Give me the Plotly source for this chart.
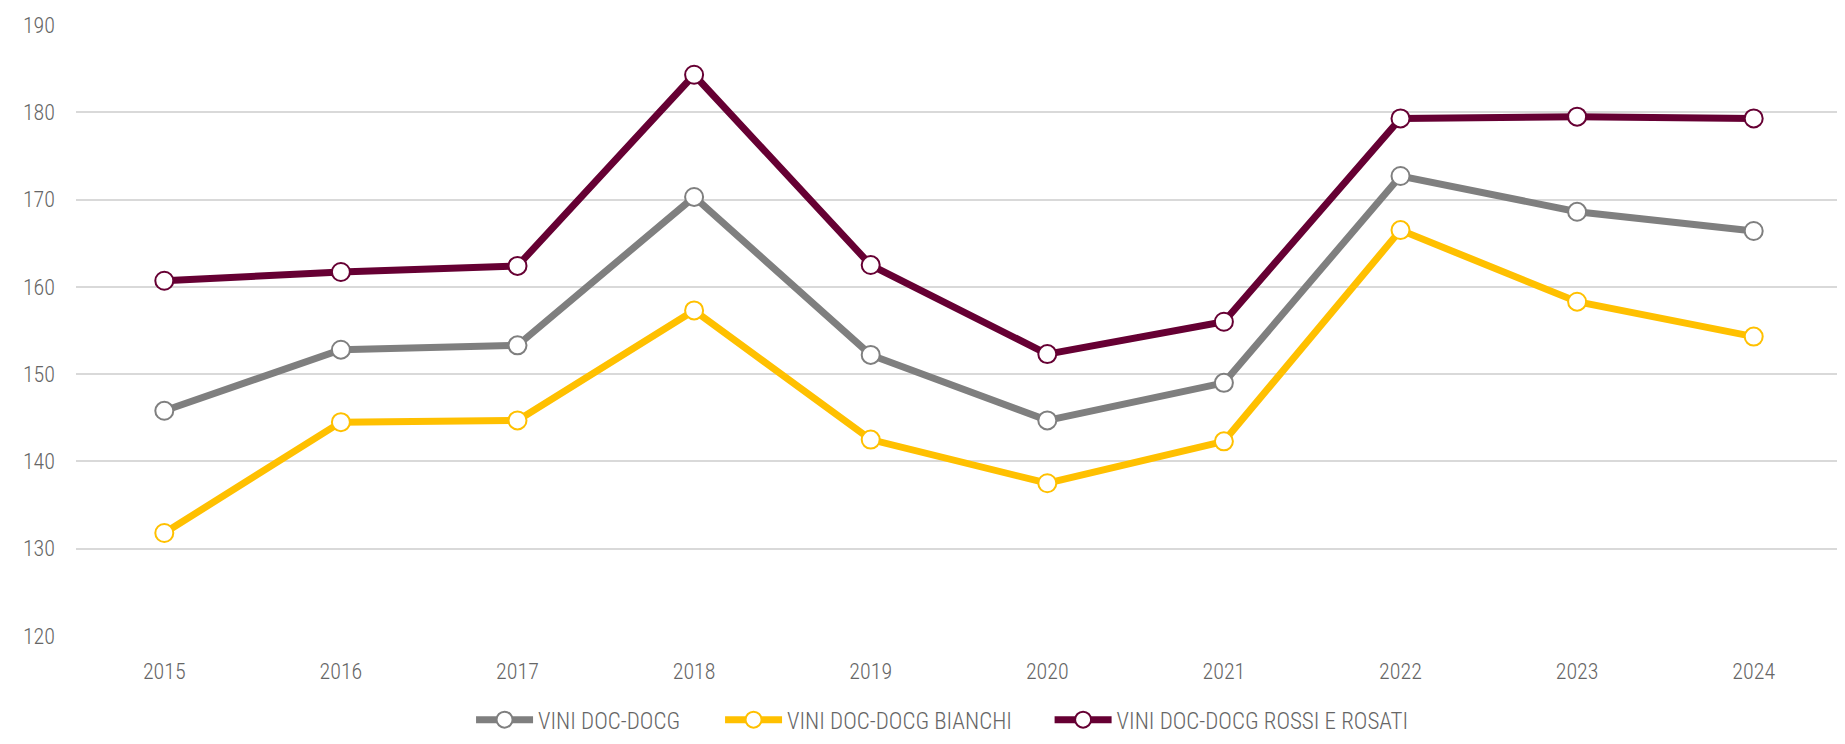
import plotly.graph_objects as go

years = ["2015", "2016", "2017", "2018", "2019", "2020", "2021", "2022", "2023", "2024"]
doc_docg = [145.8, 152.8, 153.3, 170.3, 152.2, 144.7, 149.0, 172.7, 168.6, 166.4]
doc_docg_bianchi = [131.8, 144.5, 144.7, 157.3, 142.5, 137.5, 142.3, 166.5, 158.3, 154.3]
doc_docg_rossi = [160.7, 161.7, 162.4, 184.3, 162.5, 152.3, 156.0, 179.3, 179.5, 179.3]

series_names = ["VINI DOC-DOCG", "VINI DOC-DOCG BIANCHI", "VINI DOC-DOCG ROSSI E ROSATI"]
series_values = [doc_docg, doc_docg_bianchi, doc_docg_rossi]
series_colors = ["#7f7f7f", "#ffc000", "#660033"]
legend_ids = ["legend", "legend2", "legend3"]
legend_x = [0.2237, 0.3647, 0.5513]

FONT = "Roboto Condensed, Liberation Sans Narrow, Arial Narrow, DejaVu Sans Condensed, sans-serif"
TXT = "#666666"
tfont = dict(family=FONT, size=22, color=TXT, weight=300)
lfont = dict(family=FONT, size=23, color=TXT, weight=300)

fig = go.Figure()
for name, vals, col, lid in zip(series_names, series_values, series_colors, legend_ids):
    fig.add_trace(go.Scatter(
        x=years, y=vals, name=name, mode="lines+markers", legend=lid,
        line=dict(color=col, width=7),
        marker=dict(size=18, color="white", line=dict(color=col, width=2)),
    ))

legend_common = dict(orientation="h", xanchor="left", y=-0.137, yanchor="middle",
                     font=lfont, itemwidth=57, bgcolor="rgba(0,0,0,0)", borderwidth=0)

fig.update_layout(
    width=1845, height=744,
    margin=dict(l=68, r=11, t=17, b=110),
    paper_bgcolor="white", plot_bgcolor="white",
    font=tfont,
    showlegend=True,
    legend=dict(x=legend_x[0], **legend_common),
    legend2=dict(x=legend_x[1], **legend_common),
    legend3=dict(x=legend_x[2], **legend_common),
    xaxis=dict(type="category", range=[-0.5, 9.5], showgrid=False, showline=False, zeroline=False,
               ticks="", ticklabelstandoff=20, automargin=False, tickfont=tfont),
    yaxis=dict(range=[120, 190], dtick=10, showgrid=True, gridcolor="#d9d9d9", gridwidth=2,
               showline=False, zeroline=False, ticks="", ticklabelstandoff=20, automargin=False,
               tickfont=tfont),
)

fig.write_html("out.html")
